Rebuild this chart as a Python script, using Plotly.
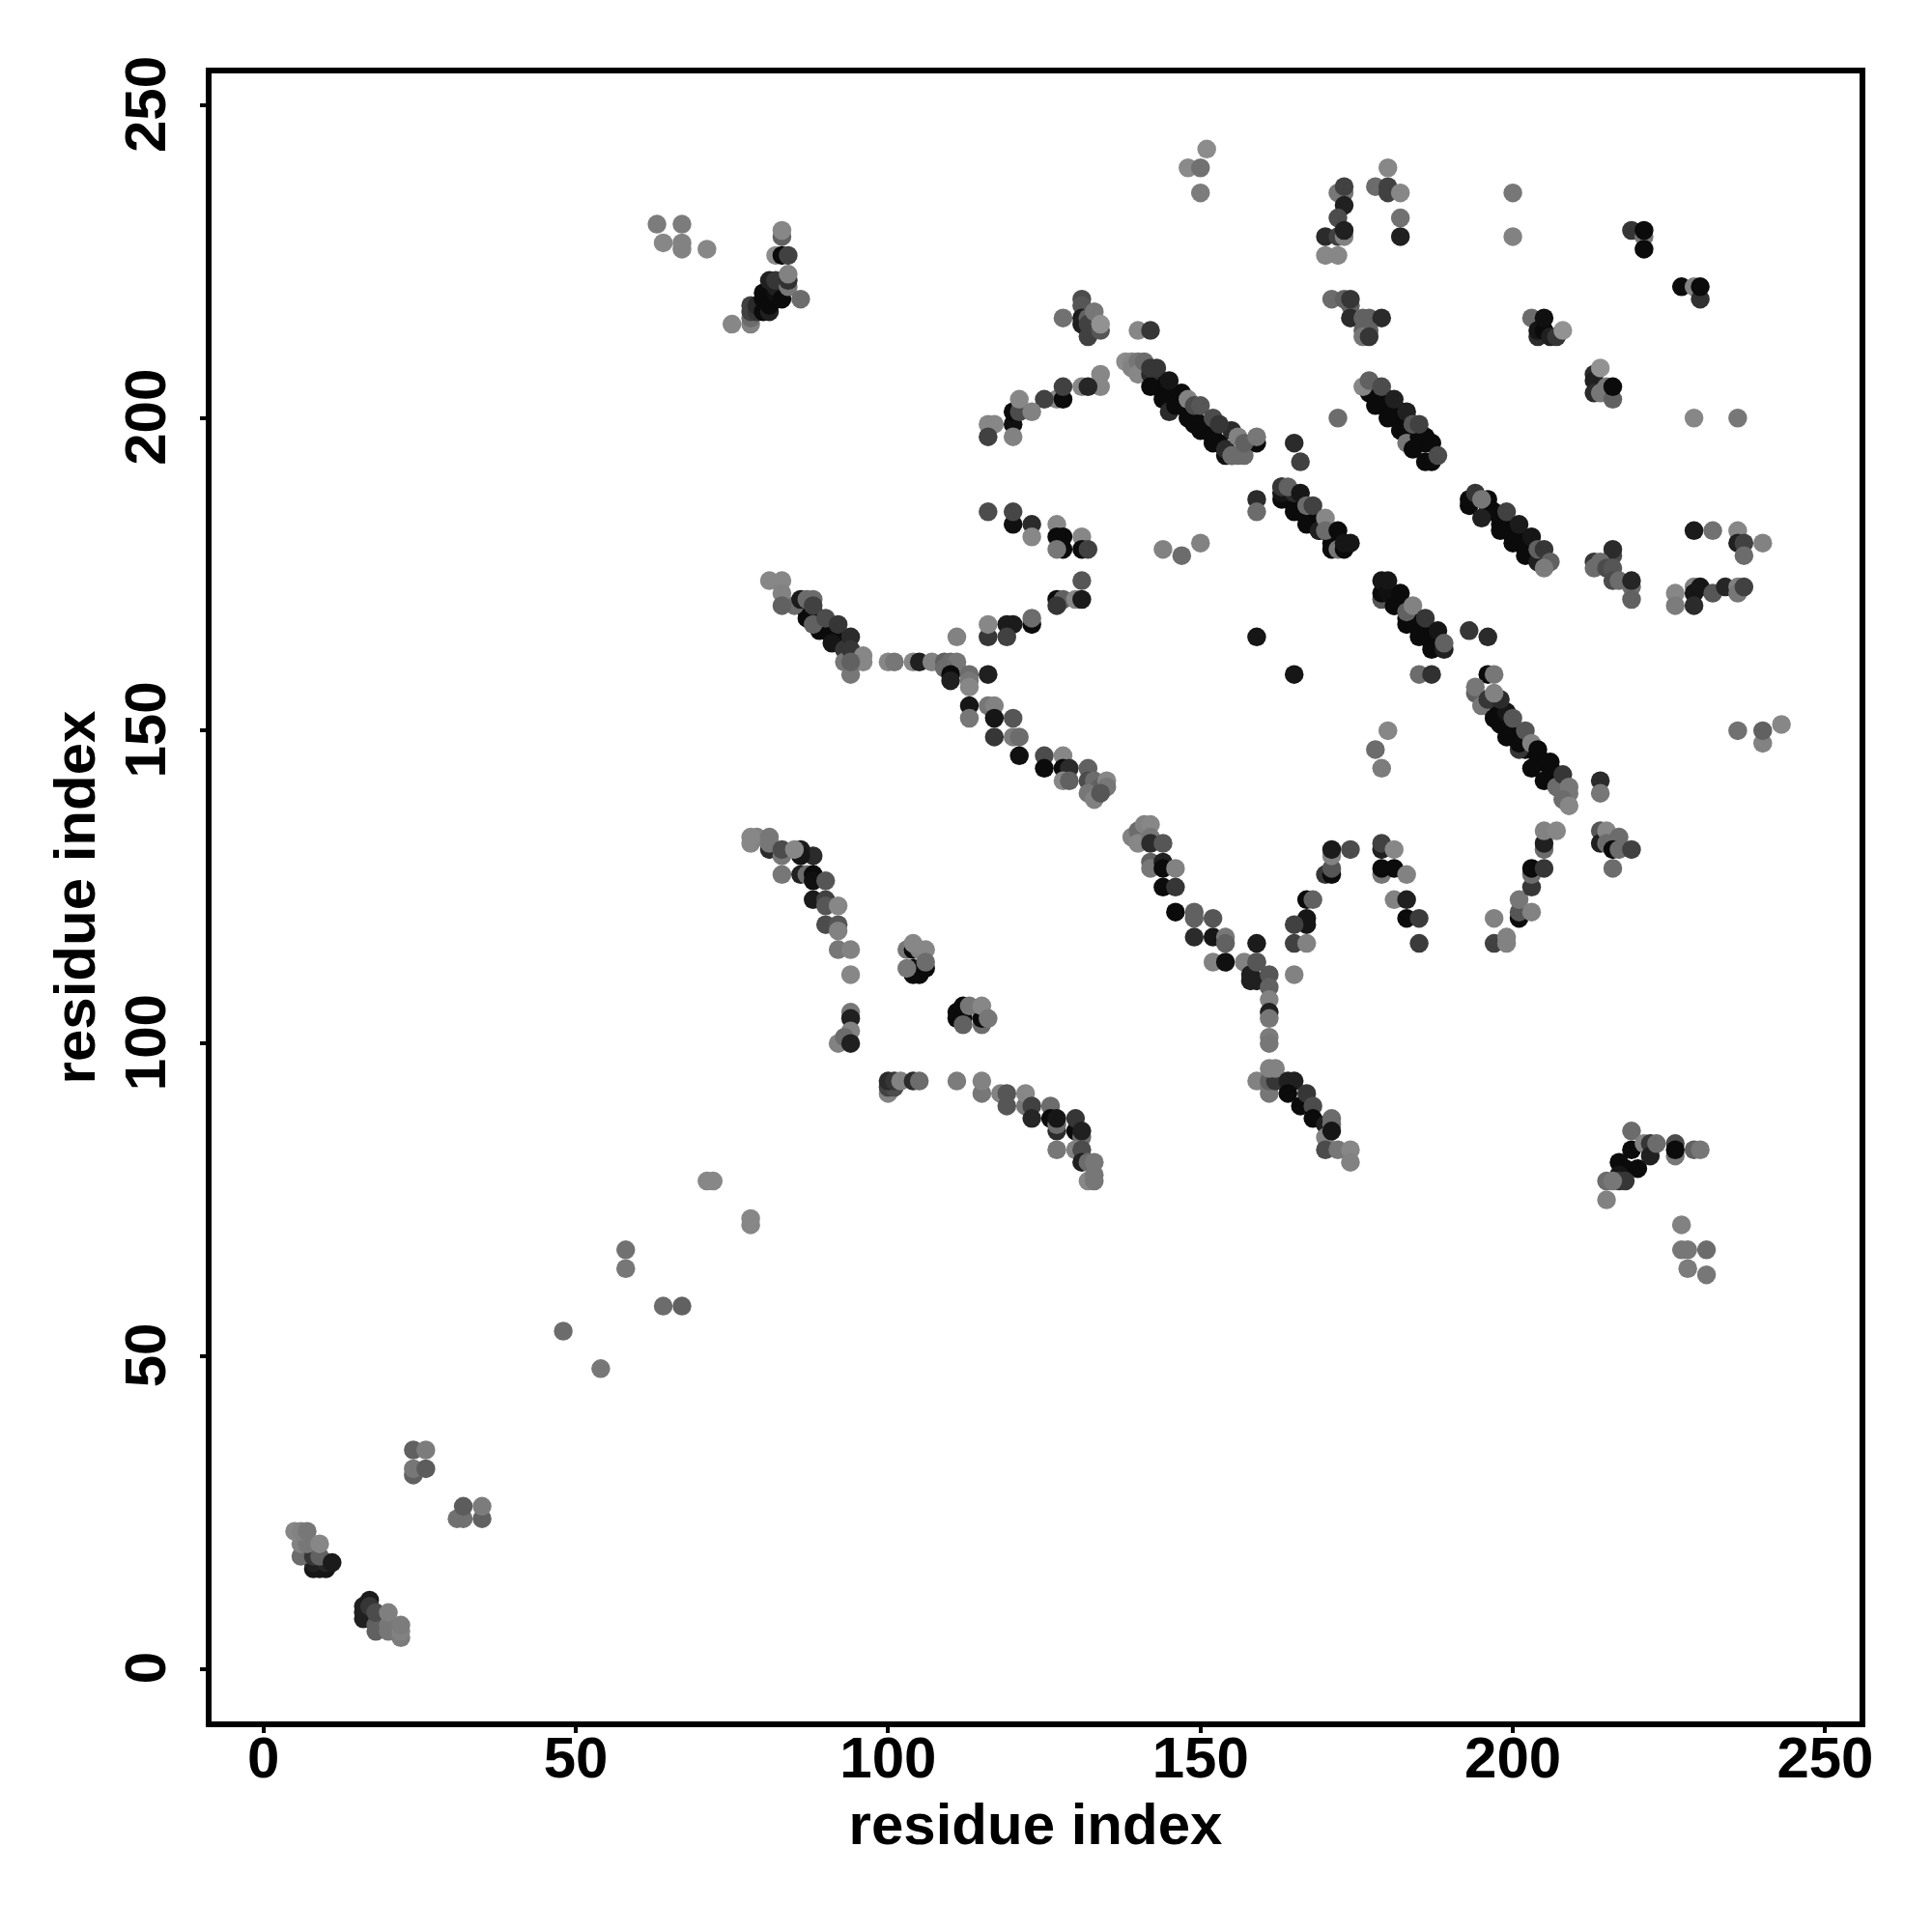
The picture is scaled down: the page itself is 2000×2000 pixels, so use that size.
import plotly.graph_objects as go

# Each group: residue on x, residue on y, grey level of the dot, in drawing order
low_a_x = [8,9,10,8,10,6,8,9,6,7,5,6,7,9,11]
low_a_y = [16,16,16,17,17,18,18,18,20,20,22,22,22,20,17]
low_a_g = [20,20,20,30,35,100,50,90,120,110,125,120,110,125,25]

low_b_x = [16,16,16,17,17,18,18,18,20,20,20,22,22,22]
low_b_y = [8,9,10,11,10,6,7,9,6,7,9,5,6,7]
low_b_g = [30,30,30,25,50,90,90,70,110,110,118,115,120,115]

low_c_x = [24,24,24,26,26,31,32,32,35,35]
low_c_y = [31,32,35,35,32,24,24,26,24,26]
low_c_g = [90,110,90,115,85,105,105,85,90,115]

sparse_x = [48,54,58,58,64,67,71,72,78,78,227,227,228,228,231,231]
sparse_y = [54,48,64,67,58,58,78,78,71,72,71,67,67,64,67,63]
sparse_g = [100,110,110,105,100,90,125,125,125,125,120,110,110,115,100,110]

top_left_x = [67,67,67,63,64,71]
top_left_y = [227,228,231,231,228,227]
top_left_g = [120,120,115,115,125,125]

knot83_x = [75,78,78,78,78,79,79,80,80,80,81,81,81,82,82,82,82,83,84,84,84,86,83,83,82,83,84]
knot83_y = [215,215,216,217,218,217,218,217,219,220,217,218,222,219,220,221,222,219,221,222,223,219,229,230,226,226,226]
knot83_g = [125,120,100,60,60,50,40,10,10,10,30,10,30,10,15,30,50,10,110,45,120,100,90,125,130,10,60]

top_mid_x = [151,148,150,150,131,128,131,131,131,132,132,133,132,134,134,140,142]
top_mid_y = [243,240,240,236,219,216,218,216,215,216,215,217,213,214,215,214,214]
top_mid_g = [130,128,105,115,70,105,80,25,30,90,60,110,60,80,135,125,50]

arc_200_x = [134,134,131,132,127,128,128,125,120,120,121,121,123,116,117,116,120]
arc_200_y = [207,205,205,205,203,203,205,203,199,201,201,203,201,199,199,197,197]
arc_200_g = [125,125,125,35,125,10,60,60,15,10,70,125,120,125,125,60,120]

core_a_x = [143,144,145,146,147,148,149,150,151,152,153,154,155,144,146,148,150,152,154]
core_a_y = [206,205,204,203,202,201,200,199,198,197,196,195,194,204,202,200,198,196,194]
core_a_g = [10,10,10,10,10,10,10,10,10,10,10,10,15,10,10,10,10,10,15]

diag_a_x = [138,139,139,140,140,141,142,142,144,145,146,149,147,152,154,156,155,157,155,159,142,143,145,148,149,150,152,153,156,157,159]
diag_a_y = [209,209,208,209,207,209,207,205,203,201,202,199,204,197,195,194,194,194,198,196,208,208,206,203,202,202,200,199,197,196,197]
diag_a_g = [130,125,120,110,125,100,40,10,10,40,10,10,10,10,40,100,100,100,40,10,50,50,20,120,70,80,70,50,120,90,110]

mid_row_x = [116,120,120,123,123,127,128,127,128,127,131,131,132,144,147,150,159,159]
mid_row_y = [185,183,185,183,181,183,181,181,179,179,181,179,179,179,178,180,187,185]
mid_row_g = [70,15,65,40,125,125,10,10,10,110,125,10,60,120,100,120,40,100]

arc_168_x = [131,127,128,127,130,131,116,116,119,120,119,123,123,111,159]
arc_168_y = [174,171,171,170,171,171,165,167,167,167,165,167,168,165,165]
arc_168_g = [80,10,90,50,125,25,50,125,25,25,60,10,100,120,20]

core_b_x = [87,88,89,90,91,92,93,87,89,91,93]
core_b_y = [170,169,168,167,166,165,164,169,167,165,163]
core_b_g = [10,10,10,10,10,10,15,10,10,10,15]

diag_b_x = [87,89,88,91,93,93,85,81,83,83,83,86,87,88,88,90,92,94,94,96,96,94]
diag_b_y = [168,166,167,164,163,161,170,174,174,172,170,171,171,171,170,168,167,165,163,162,161,159]
diag_b_g = [10,10,90,20,50,110,100,125,125,120,90,25,100,100,60,70,50,40,50,125,125,110]
diag_b2_x = [94,100,101,104,105,107,109,110,111,111,109,110,110,113,113,113,116]
diag_b2_y = [161,161,161,161,161,161,161,161,161,160,160,159,158,159,158,157,159]
diag_b2_g = [90,125,110,125,30,120,90,100,110,110,100,10,30,100,110,125,30]

slope_150_x = [113,113,116,117,117,120,117,120,121,121,125,128,125,128,129,128,129,132,132,133,134,135,135,132,133,134]
slope_150_y = [154,152,154,154,152,152,149,149,149,146,146,146,144,144,144,142,142,144,142,142,141,142,141,140,139,140]
slope_150_g = [20,110,110,120,20,80,50,115,100,15,70,125,10,10,40,125,90,90,70,100,90,125,110,110,120,80]

arc_130_x = [81,88,86,86,78,79,78,81,81,83,83,85,88,83,86,87,88,88,90,88,90,90,92,90,92,92,92,94,94]
arc_130_y = [131,130,131,130,132,133,133,133,132,130,131,131,127,127,127,127,127,126,126,123,123,122,122,119,119,118,115,115,111]
arc_130_g = [40,40,25,20,125,120,125,110,110,110,70,125,10,110,30,100,10,15,80,25,60,80,125,70,80,120,110,120,125]

col_94_x = [94,94,94,92,93,94]
col_94_y = [105,104,102,100,101,100]
col_94_g = [110,30,120,120,100,30]

knot_105_x = [103,104,104,104,105,106,105,104,106,106,103]
knot_105_y = [115,115,112,111,111,112,115,116,115,113,112]
knot_105_g = [110,10,10,10,10,10,120,125,125,100,110]

knot_112_x = [111,111,112,112,112,115,115,113,115,116]
knot_112_y = [105,104,104,106,103,103,104,106,106,104]
knot_112_g = [10,10,10,10,90,100,10,110,125,110]

arc_88_x = [100,100,101,100,101,102,104,105,111,115,115,118,119,119,122,122,123,123,126,126,127,127,127,130,130,131,131,127,130,131,131,132,133,132,133,133]
arc_88_y = [92,93,93,94,94,94,94,94,94,92,94,92,92,90,90,92,90,88,90,88,86,87,88,86,88,85,86,83,83,83,81,81,81,78,79,78]
arc_88_g = [120,60,70,40,50,120,40,100,115,110,120,120,80,80,110,125,60,35,100,10,40,100,20,10,50,100,30,110,120,70,30,100,110,125,110,110]

top_arch_x = [178,180,180,180,182,182,182,200,200,170,172,173,173,172,172,173,173,170,172]
top_arch_y = [237,237,236,240,236,232,229,236,229,229,236,236,234,232,229,229,230,226,226]
top_arch_g = [100,60,60,125,125,105,30,110,120,40,110,110,30,70,60,120,30,125,125]
top_arch2_x = [173,219,221,221,221,227,229,230,230]
top_arch2_y = [237,230,229,227,230,221,221,219,221]
top_arch2_g = [60,50,110,10,10,10,120,45,10]

knot_174_x = [171,173,174,174,176,177,179,176,177,176,177,174]
knot_174_y = [219,219,218,216,216,216,216,214,214,213,213,219]
knot_174_g = [100,90,90,40,90,90,40,90,90,110,50,50]

knot_205_x = [203,204,204,205,205,206,207,208]
knot_205_y = [216,213,214,214,216,213,213,214]
knot_205_g = [100,40,20,10,15,30,50,135]

knot_214_x = [213,213,213,214,215,216,216,214]
knot_214_y = [207,206,204,204,205,203,205,208]
knot_214_g = [40,30,40,110,110,90,10,135]

lone_200_x = [229,236,172]
lone_200_y = [200,200,200]
lone_200_g = [125,110,100]

core_c_x = [178,179,180,181,182,183,184,185,186,187,178,180,182,184,186]
core_c_y = [205,204,203,202,201,200,199,198,197,196,204,202,200,198,196]
core_c_g = [10,10,10,10,10,10,10,10,10,10,10,10,10,10,10]

diag_c_x = [177,178,180,182,183,184,186,187,185,187,176,177,179,181,183,184,185,188,165,166]
diag_c_y = [204,202,200,198,196,195,193,193,197,196,205,206,205,203,201,199,199,194,196,193]
diag_c_g = [10,10,10,10,110,10,10,10,10,10,125,90,70,30,30,80,60,70,40,60]

core_d_x = [164,165,166,167,168,169,170,171,172,165,167,169,171]
core_d_y = [188,187,186,185,184,183,182,181,180,186,184,182,180]
core_d_g = [10,10,10,10,10,10,10,10,10,10,10,10,10]

diag_d_x = [163,163,163,165,167,169,171,172,173,165,163,164,166,167,168,170,170,172,173,174]
diag_d_y = [187,188,189,185,183,182,179,179,179,188,189,189,188,186,186,184,182,182,180,180]
diag_d_g = [10,20,50,10,10,30,10,110,10,40,50,90,20,100,60,125,100,10,20,20]

core_e_x = [195,196,197,198,199,200,201,202,203,204,196,198,200,202,204]
core_e_y = [187,186,185,184,183,182,181,180,179,178,185,183,181,179,177]
core_e_g = [10,10,10,10,10,10,10,10,10,10,10,10,10,10,10]

diag_e_x = [193,193,195,196,198,200,202,204,194,195,199,201,203,204,205,206,205]
diag_e_y = [186,187,184,187,182,180,178,177,188,187,185,183,181,179,179,177,176]
diag_e_g = [10,10,30,10,10,10,10,30,50,110,60,25,20,90,50,90,115]

right_178_x = [216,216,213,214,213,215,216,216,217,219,219,219,229,232,236,236,237,237,240]
right_178_y = [178,179,177,177,176,176,176,174,174,173,174,171,182,182,182,180,180,178,180]
right_178_g = [70,40,50,100,100,70,80,70,100,100,35,90,25,105,125,30,60,100,120]

right_172_x = [226,226,229,230,229,229,232,234,236,236,237]
right_172_y = [172,170,173,173,172,170,172,173,173,172,173]
right_172_g = [125,115,120,20,20,40,80,35,120,110,60]

core_f_x = [180,181,182,183,184,185,186,187,181,183,185,187]
core_f_y = [172,171,170,169,168,167,166,165,170,168,166,164]
core_f_g = [10,10,10,10,10,10,10,10,10,10,10,10]

diag_f_x = [179,179,179,180,181,182,183,185,187,183,184,186,188,189,189,180]
diag_f_y = [171,172,174,172,170,172,167,165,163,169,170,168,166,163,164,174]
diag_f_g = [80,10,20,15,10,10,10,10,10,90,120,50,20,30,90,20]

gap_160_x = [193,196,165,185,187,196,197]
gap_160_y = [166,165,159,159,159,159,159]
gap_160_g = [50,40,20,100,45,10,110]

core_g_x = [197,198,199,200,201,202,203,204,205,206,207,198,200,202,204,206]
core_g_y = [153,152,151,150,149,148,147,146,145,144,143,151,149,147,145,143]
core_g_g = [10,10,10,10,10,10,10,10,10,10,15,10,10,10,10,10]

diag_g_x = [194,194,195,196,197,199,199,201,203,205,198,197,200,201,202,203,204,206,207,208,209,209,208,209]
diag_g_y = [156,157,154,155,152,149,153,147,144,142,155,156,152,148,150,148,147,145,141,143,141,140,139,138]
diag_g_g = [90,110,110,50,10,10,20,50,10,10,40,120,80,10,80,120,10,10,100,50,110,110,100,125]

lone_147_x = [180,178,179,214,214,236,240,240,243]
lone_147_y = [150,147,144,142,140,150,148,150,151]
lone_147_g = [125,100,115,40,110,105,120,90,125]

right_131_x = [205,205,205,207,214,214,215,215,217,216,217,219,216]
right_131_y = [131,132,134,134,134,132,134,132,133,131,131,131,128]
right_131_g = [100,30,120,125,80,30,125,100,100,10,100,60,100]

arch_a_x = [170,171,171,171,174,167,168,167,167,165,165,167,165]
arch_a_y = [127,127,128,130,131,123,123,120,119,119,116,116,111]
arch_a_g = [50,10,80,120,70,10,90,20,20,60,60,120,120]
arch_a2_x = [171]
arch_a2_y = [131]
arch_a2_g = [25]

arch_b_x = [179,179,179,181,179,181,181,183,183,183,185,185]
arch_b_y = [131,132,127,131,128,128,123,127,123,120,120,116]
arch_b_g = [30,60,110,125,10,10,120,120,30,10,55,55]

arch_c_x = [197,199,197,199,201,201,201,203,203,203,203,205]
arch_c_y = [116,117,120,116,120,121,123,121,125,127,128,128]
arch_c_g = [60,120,120,120,10,80,110,120,50,100,10,50]

slope_125_x = [139,140,141,142,140,142,142,144,142,142,144,144,146,144,146,146,149,149,152,149,152,154,154]
slope_125_y = [133,134,135,135,132,133,132,132,129,128,129,128,128,125,125,121,121,120,120,117,117,117,116]
slope_125_g = [120,100,120,125,125,110,40,80,90,110,30,10,120,10,50,10,90,90,80,40,20,110,90]

stack_161_x = [152,154,157,159,159,158,158,159,159,161,161,161,161,161,161,161]
stack_161_y = [113,113,113,113,116,111,110,110,113,111,109,107,105,104,101,100]
stack_161_g = [120,15,120,90,25,30,30,30,80,80,90,120,30,110,115,110]

diag_h_x = [159,161,161,161,162,161,162,164,165,164,166,167,168,168,170,170,171,171,171,170,172,174,174]
diag_h_y = [94,92,93,94,94,96,96,94,94,92,90,92,90,88,87,85,88,87,86,83,83,83,81]
diag_h_g = [120,110,110,90,50,120,120,30,30,10,10,50,70,10,30,120,100,100,20,70,110,125,120]

knot_220_x = [217,218,220,217,219,217,218,215,216,215,219,221,222,222,223,226,226,226,229,230]
knot_220_y = [81,80,80,79,83,78,78,78,78,75,86,84,84,82,84,82,84,83,83,83]
knot_220_g = [10,10,10,20,10,50,50,100,110,120,100,120,50,30,100,110,70,10,90,110]

groups = [
    (low_a_x, low_a_y, low_a_g), (low_b_x, low_b_y, low_b_g), (low_c_x, low_c_y, low_c_g),
    (sparse_x, sparse_y, sparse_g), (top_left_x, top_left_y, top_left_g), (knot83_x, knot83_y, knot83_g),
    (top_mid_x, top_mid_y, top_mid_g), (arc_200_x, arc_200_y, arc_200_g),
    (core_a_x, core_a_y, core_a_g), (diag_a_x, diag_a_y, diag_a_g),
    (mid_row_x, mid_row_y, mid_row_g), (arc_168_x, arc_168_y, arc_168_g),
    (core_b_x, core_b_y, core_b_g), (diag_b_x, diag_b_y, diag_b_g),
    (diag_b2_x, diag_b2_y, diag_b2_g), (slope_150_x, slope_150_y, slope_150_g), (arc_130_x, arc_130_y, arc_130_g),
    (col_94_x, col_94_y, col_94_g), (knot_105_x, knot_105_y, knot_105_g), (knot_112_x, knot_112_y, knot_112_g),
    (arc_88_x, arc_88_y, arc_88_g), (top_arch_x, top_arch_y, top_arch_g), (top_arch2_x, top_arch2_y, top_arch2_g),
    (knot_174_x, knot_174_y, knot_174_g), (knot_205_x, knot_205_y, knot_205_g), (knot_214_x, knot_214_y, knot_214_g),
    (lone_200_x, lone_200_y, lone_200_g), (core_c_x, core_c_y, core_c_g), (diag_c_x, diag_c_y, diag_c_g),
    (core_d_x, core_d_y, core_d_g), (diag_d_x, diag_d_y, diag_d_g),
    (core_e_x, core_e_y, core_e_g), (diag_e_x, diag_e_y, diag_e_g), (right_178_x, right_178_y, right_178_g),
    (right_172_x, right_172_y, right_172_g), (core_f_x, core_f_y, core_f_g),
    (diag_f_x, diag_f_y, diag_f_g), (gap_160_x, gap_160_y, gap_160_g), (core_g_x, core_g_y, core_g_g),
    (diag_g_x, diag_g_y, diag_g_g),
    (lone_147_x, lone_147_y, lone_147_g), (right_131_x, right_131_y, right_131_g), (arch_a_x, arch_a_y, arch_a_g),
    (arch_a2_x, arch_a2_y, arch_a2_g), (arch_b_x, arch_b_y, arch_b_g), (arch_c_x, arch_c_y, arch_c_g),
    (slope_125_x, slope_125_y, slope_125_g), (stack_161_x, stack_161_y, stack_161_g), (diag_h_x, diag_h_y, diag_h_g),
    (knot_220_x, knot_220_y, knot_220_g),
]

tick_vals = [0, 50, 100, 150, 200, 250]
axis_title = "residue index"

xs, ys, cs = [], [], []
for i, (gx, gy, gg) in enumerate(groups):
    if not (len(gx) == len(gy) == len(gg)):
        raise ValueError(f"group {i}: {len(gx)} {len(gy)} {len(gg)}")
    xs += gx
    ys += gy
    cs += [f"rgb({round(v*1.08)},{round(v*1.08)},{round(v*1.08)})" for v in gg]

fig = go.Figure(go.Scatter(
    x=xs, y=ys, mode="markers",
    marker=dict(size=19.5, color=cs, line=dict(width=0)),
    cliponaxis=True, showlegend=False,
))

font = dict(family="Liberation Sans", size=60, color="black", weight="bold")
axis = dict(
    tickmode="array", tickvals=tick_vals, showgrid=False, zeroline=False,
    showline=True, mirror=True, linecolor="black", linewidth=6,
    ticks="outside", ticklen=6, tickwidth=4, tickcolor="black", tickfont=font,
)
fig.update_layout(
    width=2000, height=2000,
    margin=dict(l=211, r=83, t=67.5, b=226, autoexpand=False),
    plot_bgcolor="white", paper_bgcolor="white",
    xaxis=dict(range=[-8.3, 255.5], ticklabelstandoff=-26,
               title=dict(text=axis_title, font=font, standoff=17), **axis),
    yaxis=dict(range=[-8.4, 255.1], tickangle=-90, ticklabelstandoff=12, ticklabelshift=8,
               title=dict(text=axis_title, font=font, standoff=1), **axis),
)
fig.write_html("out.html")
